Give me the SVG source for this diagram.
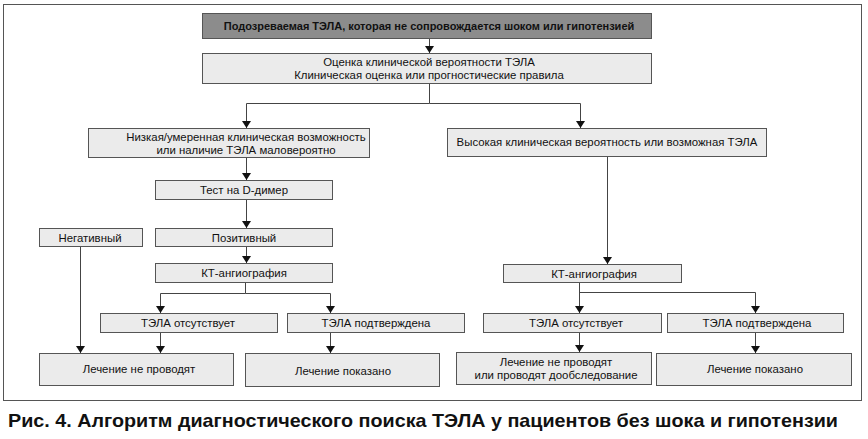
<svg xmlns="http://www.w3.org/2000/svg" width="868" height="439" viewBox="0 0 868 439">
<style>
.box{fill:#ebebeb;stroke:#555;stroke-width:1}
.dark{fill:#8c8c8c;stroke:#555;stroke-width:1}
.t{font-family:"Liberation Sans",Arial,sans-serif;font-size:11.4px;fill:#111;text-anchor:middle}
.tb{font-family:"Liberation Sans",Arial,sans-serif;font-size:11px;font-weight:bold;fill:#111;text-anchor:middle}
.cap{font-family:"Liberation Sans",Arial,sans-serif;font-size:19px;font-weight:bold;fill:#111}
.c{fill:none;stroke:#444;stroke-width:1}
</style>
<defs>
<marker id="ah" viewBox="0 0 7 9" refX="7" refY="4.5" markerWidth="7" markerHeight="9" markerUnits="userSpaceOnUse" orient="auto">
<path d="M0,0 L7,4.5 L0,9 z" fill="#111"/>
</marker>
</defs>
<rect width="868" height="439" fill="#fff"/>
<rect x="3.5" y="4.5" width="858" height="396" fill="none" stroke="#555" stroke-width="1"/>

<g id="connectors">
<path class="c" d="M429.5,38 V53" marker-end="url(#ah)"/>
<path class="c" d="M429.5,83 V103.5 H246.5 V128" marker-end="url(#ah)"/>
<path class="c" d="M429.5,103.5 H580.5 V128" marker-end="url(#ah)"/>
<path class="c" d="M246.5,157 V180" marker-end="url(#ah)"/>
<path class="c" d="M246.5,199 V228" marker-end="url(#ah)"/>
<path class="c" d="M246.5,246 V263" marker-end="url(#ah)"/>
<path class="c" d="M245.5,282 V293.5 H160.5 V313" marker-end="url(#ah)"/>
<path class="c" d="M245.5,293.5 H330.5 V313" marker-end="url(#ah)"/>
<path class="c" d="M80.5,246 V353" marker-end="url(#ah)"/>
<path class="c" d="M160.5,332 V353" marker-end="url(#ah)"/>
<path class="c" d="M330.5,332 V353" marker-end="url(#ah)"/>
<path class="c" d="M607.5,156 V264" marker-end="url(#ah)"/>
<path class="c" d="M579.5,282 V313" marker-end="url(#ah)"/>
<path class="c" d="M579.5,292.5 H755.5 V313" marker-end="url(#ah)"/>
<path class="c" d="M579.5,332 V352" marker-end="url(#ah)"/>
<path class="c" d="M755.5,332 V353" marker-end="url(#ah)"/>
</g>

<g id="n_suspected">
<rect class="dark" x="202.5" y="13.5" width="449" height="25"/>
<text class="tb" x="429" y="29.5">Подозреваемая ТЭЛА, которая не сопровождается шоком или гипотензией</text>
</g>
<g id="n_assess">
<rect class="box" x="202.5" y="53.5" width="449" height="30"/>
<text class="t" x="429" y="66">Оценка клинической вероятности ТЭЛА</text>
<text class="t" x="429" y="79">Клиническая оценка или прогностические правила</text>
</g>
<g id="n_low">
<rect class="box" x="88.5" y="128.5" width="281" height="29"/>
<text class="t" x="246" y="140.5">Низкая/умеренная клиническая возможность</text>
<text class="t" x="246" y="154">или наличие ТЭЛА маловероятно</text>
</g>
<g id="n_high">
<rect class="box" x="447.5" y="128.5" width="319" height="28"/>
<text class="t" x="607" y="146">Высокая клиническая вероятность или возможная ТЭЛА</text>
</g>
<g id="n_ddimer">
<rect class="box" x="155.5" y="180.5" width="177" height="19"/>
<text class="t" x="244" y="194">Тест на D-димер</text>
</g>
<g id="n_neg">
<rect class="box" x="39.5" y="228.5" width="103" height="18"/>
<text class="t" x="90" y="241.5">Негативный</text>
</g>
<g id="n_pos">
<rect class="box" x="155.5" y="228.5" width="177" height="18"/>
<text class="t" x="244" y="241.5">Позитивный</text>
</g>
<g id="n_ct_left">
<rect class="box" x="155.5" y="263.5" width="177" height="19"/>
<text class="t" x="244" y="277">КТ-ангиография</text>
</g>
<g id="n_absent_left">
<rect class="box" x="100.5" y="313.5" width="177" height="19"/>
<text class="t" x="188" y="327">ТЭЛА отсутствует</text>
</g>
<g id="n_confirmed_left">
<rect class="box" x="287.5" y="313.5" width="177" height="19"/>
<text class="t" x="376" y="327">ТЭЛА подтверждена</text>
</g>
<g id="n_notreat_left">
<rect class="box" x="39.5" y="353.5" width="194" height="32"/>
<text class="t" x="139" y="373">Лечение не проводят</text>
</g>
<g id="n_treat_left">
<rect class="box" x="245.5" y="353.5" width="194" height="33"/>
<text class="t" x="343" y="375">Лечение показано</text>
</g>
<g id="n_ct_right">
<rect class="box" x="503.5" y="264.5" width="178" height="18"/>
<text class="t" x="594" y="277.5">КТ-ангиография</text>
</g>
<g id="n_absent_right">
<rect class="box" x="483.5" y="313.5" width="178" height="19"/>
<text class="t" x="576" y="327">ТЭЛА отсутствует</text>
</g>
<g id="n_confirmed_right">
<rect class="box" x="667.5" y="313.5" width="176" height="19"/>
<text class="t" x="757" y="327">ТЭЛА подтверждена</text>
</g>
<g id="n_notreat_right">
<rect class="box" x="456.5" y="352.5" width="195" height="32"/>
<text class="t" x="556" y="366">Лечение не проводят</text>
<text class="t" x="556" y="379">или проводят дообследование</text>
</g>
<g id="n_treat_right">
<rect class="box" x="656.5" y="353.5" width="195" height="32"/>
<text class="t" x="755" y="373">Лечение показано</text>
</g>

<text class="cap" x="8" y="427" textLength="830" lengthAdjust="spacingAndGlyphs">Рис. 4. Алгоритм диагностического поиска ТЭЛА у пациентов без шока и гипотензии</text>
</svg>
